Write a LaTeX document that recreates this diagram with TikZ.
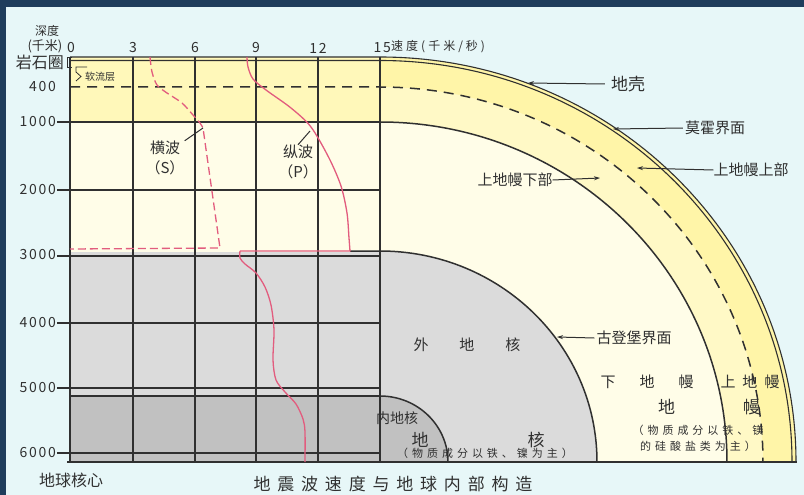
\documentclass[tikz,border=0pt]{standalone}
\usepackage{fontspec}
\setmainfont{Noto Sans CJK SC}
\usetikzlibrary{arrows.meta}

\definecolor{framebg}{RGB}{31,61,92}
\definecolor{skybg}{RGB}{231,247,248}
\definecolor{crustyellow}{RGB}{255,245,168}
\definecolor{mantleyellow}{RGB}{255,249,198}
\definecolor{gridyellow}{RGB}{255,248,186}
\definecolor{lowercream}{RGB}{255,253,232}
\definecolor{outercore}{RGB}{219,219,219}
\definecolor{innercore}{RGB}{193,193,193}
\definecolor{inkgray}{RGB}{48,48,48}
\definecolor{wavepink}{RGB}{226,92,126}

\begin{document}
\begin{tikzpicture}[
    x=1pt, y=-1pt,
    grid/.style={draw=inkgray, line width=1.3pt},
    shell/.style={draw=inkgray, line width=1.5pt},
    wave/.style={draw=wavepink, line width=1.3pt},
    lab/.style={text=inkgray, inner sep=0pt, font=\fontsize{15}{20}\selectfont},
    big/.style={lab, font=\fontsize{17}{20}\selectfont},
    num/.style={lab, font=\fontsize{14}{16}\selectfont\addfontfeature{LetterSpace=12}},
    note/.style={lab, font=\fontsize{11}{16}\selectfont\addfontfeature{LetterSpace=36}},
    arrow/.style={-{Stealth[length=6pt,width=4pt]}, draw=inkgray, line width=1pt},
    leader/.style={draw=inkgray, line width=1pt}
]

% background and frame
\fill[skybg] (0,0) rectangle (804,495);
\fill[framebg] (0,0) rectangle (804,7);
\fill[framebg] (0,0) rectangle (6,495);
\useasboundingbox (0,0) rectangle (804,495);

% shells of the quarter globe
\fill[crustyellow] (380,462) -- (380,57) arc[start angle=90, end angle=0, x radius=416pt, y radius=405pt] -- cycle;
\fill[mantleyellow] (380,462) -- (380,87) arc[start angle=90, end angle=0, x radius=383pt, y radius=375pt] -- cycle;
\fill[lowercream] (380,462) -- (380,122) arc[start angle=90, end angle=0, x radius=347pt, y radius=340pt] -- cycle;
\fill[outercore] (380,462) -- (380,251) arc[start angle=90, end angle=0, x radius=217pt, y radius=211pt] -- cycle;
\fill[innercore] (380,462) -- (380,396) arc[start angle=90, end angle=0, x radius=68pt, y radius=66pt] -- cycle;

% layers behind the chart
\fill[gridyellow] (70,57) rectangle (380,122);
\fill[lowercream] (70,122) rectangle (380,252);
\fill[outercore] (70,252) rectangle (380,396);
\fill[innercore] (70,396) rectangle (380,462);

% chart grid
\foreach \x in {70,133,195,256,318,380}
    \draw[grid] (\x,57) -- (\x,462);
\foreach \y in {122,190,256,323,388,453}
    \draw[grid] (57,\y) -- (380,\y);
\draw[grid] (70,396) -- (380,396);
\draw[grid] (67,462) -- (797,462);

% boundaries
\draw[shell, line width=1.1pt] (70,57) -- (380,57) arc[start angle=90, end angle=0, x radius=416pt, y radius=405pt];
\draw[shell, line width=1.1pt] (70,60.5) -- (380,60.5) arc[start angle=90, end angle=0, x radius=412pt, y radius=401.5pt];
\draw[shell, dash pattern=on 10pt off 7pt] (70,87) -- (380,87) arc[start angle=90, end angle=0, x radius=383pt, y radius=375pt];
\draw[shell] (380,122) arc[start angle=90, end angle=0, x radius=347pt, y radius=340pt];
\draw[shell] (350,251) -- (380,251) arc[start angle=90, end angle=0, x radius=217pt, y radius=211pt];
\draw[shell] (380,396) arc[start angle=90, end angle=0, x radius=68pt, y radius=66pt];

% lithosphere and asthenosphere brackets
\draw[leader, line width=0.8pt] (72,57) -- (67,57) -- (67,67) -- (72,67);
\draw[leader, line width=0.8pt] (87,67) -- (76,67) -- (76,72) -- (81,76.5) -- (76,81);

% wave speed curves
\draw[wave, dash pattern=on 8pt off 4pt] plot[smooth] coordinates
    {(150,57) (152,72) (157,85) (167,93) (182,103) (193,115) (200,123) (203,128)}
    -- (220,248) -- (70,249);
\draw[wave] plot[smooth] coordinates
    {(247,57) (248,67) (253,79) (266,90) (291,108) (311,127) (329,158) (341,186) (347,213) (349,238) (350,251)}
    -- (240,251);
\draw[wave] plot[smooth] coordinates
    {(240,251) (240,258) (245,264) (256,273) (265,287) (271,305) (274,330) (273,360) (276,380) (285,392) (296,404) (303,419) (305,432) (305,462)};

% axis labels
\node (depthHead) [lab, font=\fontsize{12}{14}\selectfont] at (47,31) {深度};
\node (depthUnit) [lab, font=\fontsize{13}{14}\selectfont] at (45,46) {(千米)};
\node (litho) [lab, font=\fontsize{16}{18}\selectfont] at (40,62) {岩石圈};
\node (astheno) [lab, font=\fontsize{10}{12}\selectfont, anchor=west] at (85,77) {软流层};
\foreach \d/\y in {400/87,1000/122,2000/190,3000/255,4000/323,5000/388,6000/453}
    \node (depth\d) [num, anchor=east] at (56,\y) {\d};
\foreach \v/\x in {0/71,3/133,6/195,9/256,12/318}
    \node (speed\v) [num] at (\x,48) {\v};
\node (speed15) [num, anchor=east] at (391,48) {15};
\node (speedUnit) [lab, font=\fontsize{12}{14}\selectfont\addfontfeature{LetterSpace=25}, anchor=west] at (391,47) {速度(千米/秒)};
\node (center) [lab, font=\fontsize{16}{18}\selectfont] at (71,480) {地球核心};

% wave names
\node (sLabel) [lab, align=center] at (165,158) {横波\\（S）};
\node (pLabel) [lab, align=center] at (298,162) {纵波\\（P）};
\coordinate (sPoint) at (203,128);
\coordinate (pPoint) at (310,131);
\draw[leader] (sLabel.north east) -- (sPoint);
\draw[leader] (pLabel.north) -- (pPoint);

% layer names
\node (crust) [big] at (628,84) {地壳};
\node (moho) [lab] at (715,128) {莫霍界面};
\node (upperTop) [lab] at (751,170) {上地幔上部};
\node (upperLow) [lab] at (515,180) {上地幔下部};
\node (gutenberg) [lab] at (634,338) {古登堡界面};
\coordinate (crustPt) at (528,83);
\coordinate (mohoPt) at (613,129);
\coordinate (upperTopPt) at (637,168);
\coordinate (upperLowPt) at (600,178);
\coordinate (gutenbergPt) at (557,337);
\draw[arrow] ([xshift=-6pt]crust.west) -- (crustPt);
\draw[arrow] ([xshift=-2pt]moho.west) -- (mohoPt);
\draw[arrow] (upperTop.west) -- (upperTopPt);
\draw[arrow] (upperLow.east) -- (upperLowPt);
\draw[arrow] ([xshift=-2pt]gutenberg.west) -- (gutenbergPt);

% region names
\node (outerCore) [lab] at (467,345) {外\hspace{31pt}地\hspace{31pt}核};
\node (innerCore) [lab, font=\fontsize{14}{16}\selectfont] at (397,418) {内地核};
\node (coreWord) [big] at (478,440) {地\hspace{99pt}核};
\node (coreNote) [note] at (485,453) {（物质成分以铁、镍为主）};
\node (lowerMantle) [lab] at (647,382) {下\hspace{24pt}地\hspace{24pt}幔};
\node (upperMantle) [lab] at (750,382) {上\hspace{7pt}地\hspace{7pt}幔};
\node (mantleWord) [big] at (709,407) {地\hspace{68pt}幔};
\node (mantleNote) [note, align=center] at (698,438) {（物质成分以铁、镁\\的硅酸盐类为主）};

% title
\node (title) [big, font=\fontsize{17}{20}\selectfont\addfontfeature{LetterSpace=40}] at (393,484) {地震波速度与地球内部构造};

\end{tikzpicture}
\end{document}
